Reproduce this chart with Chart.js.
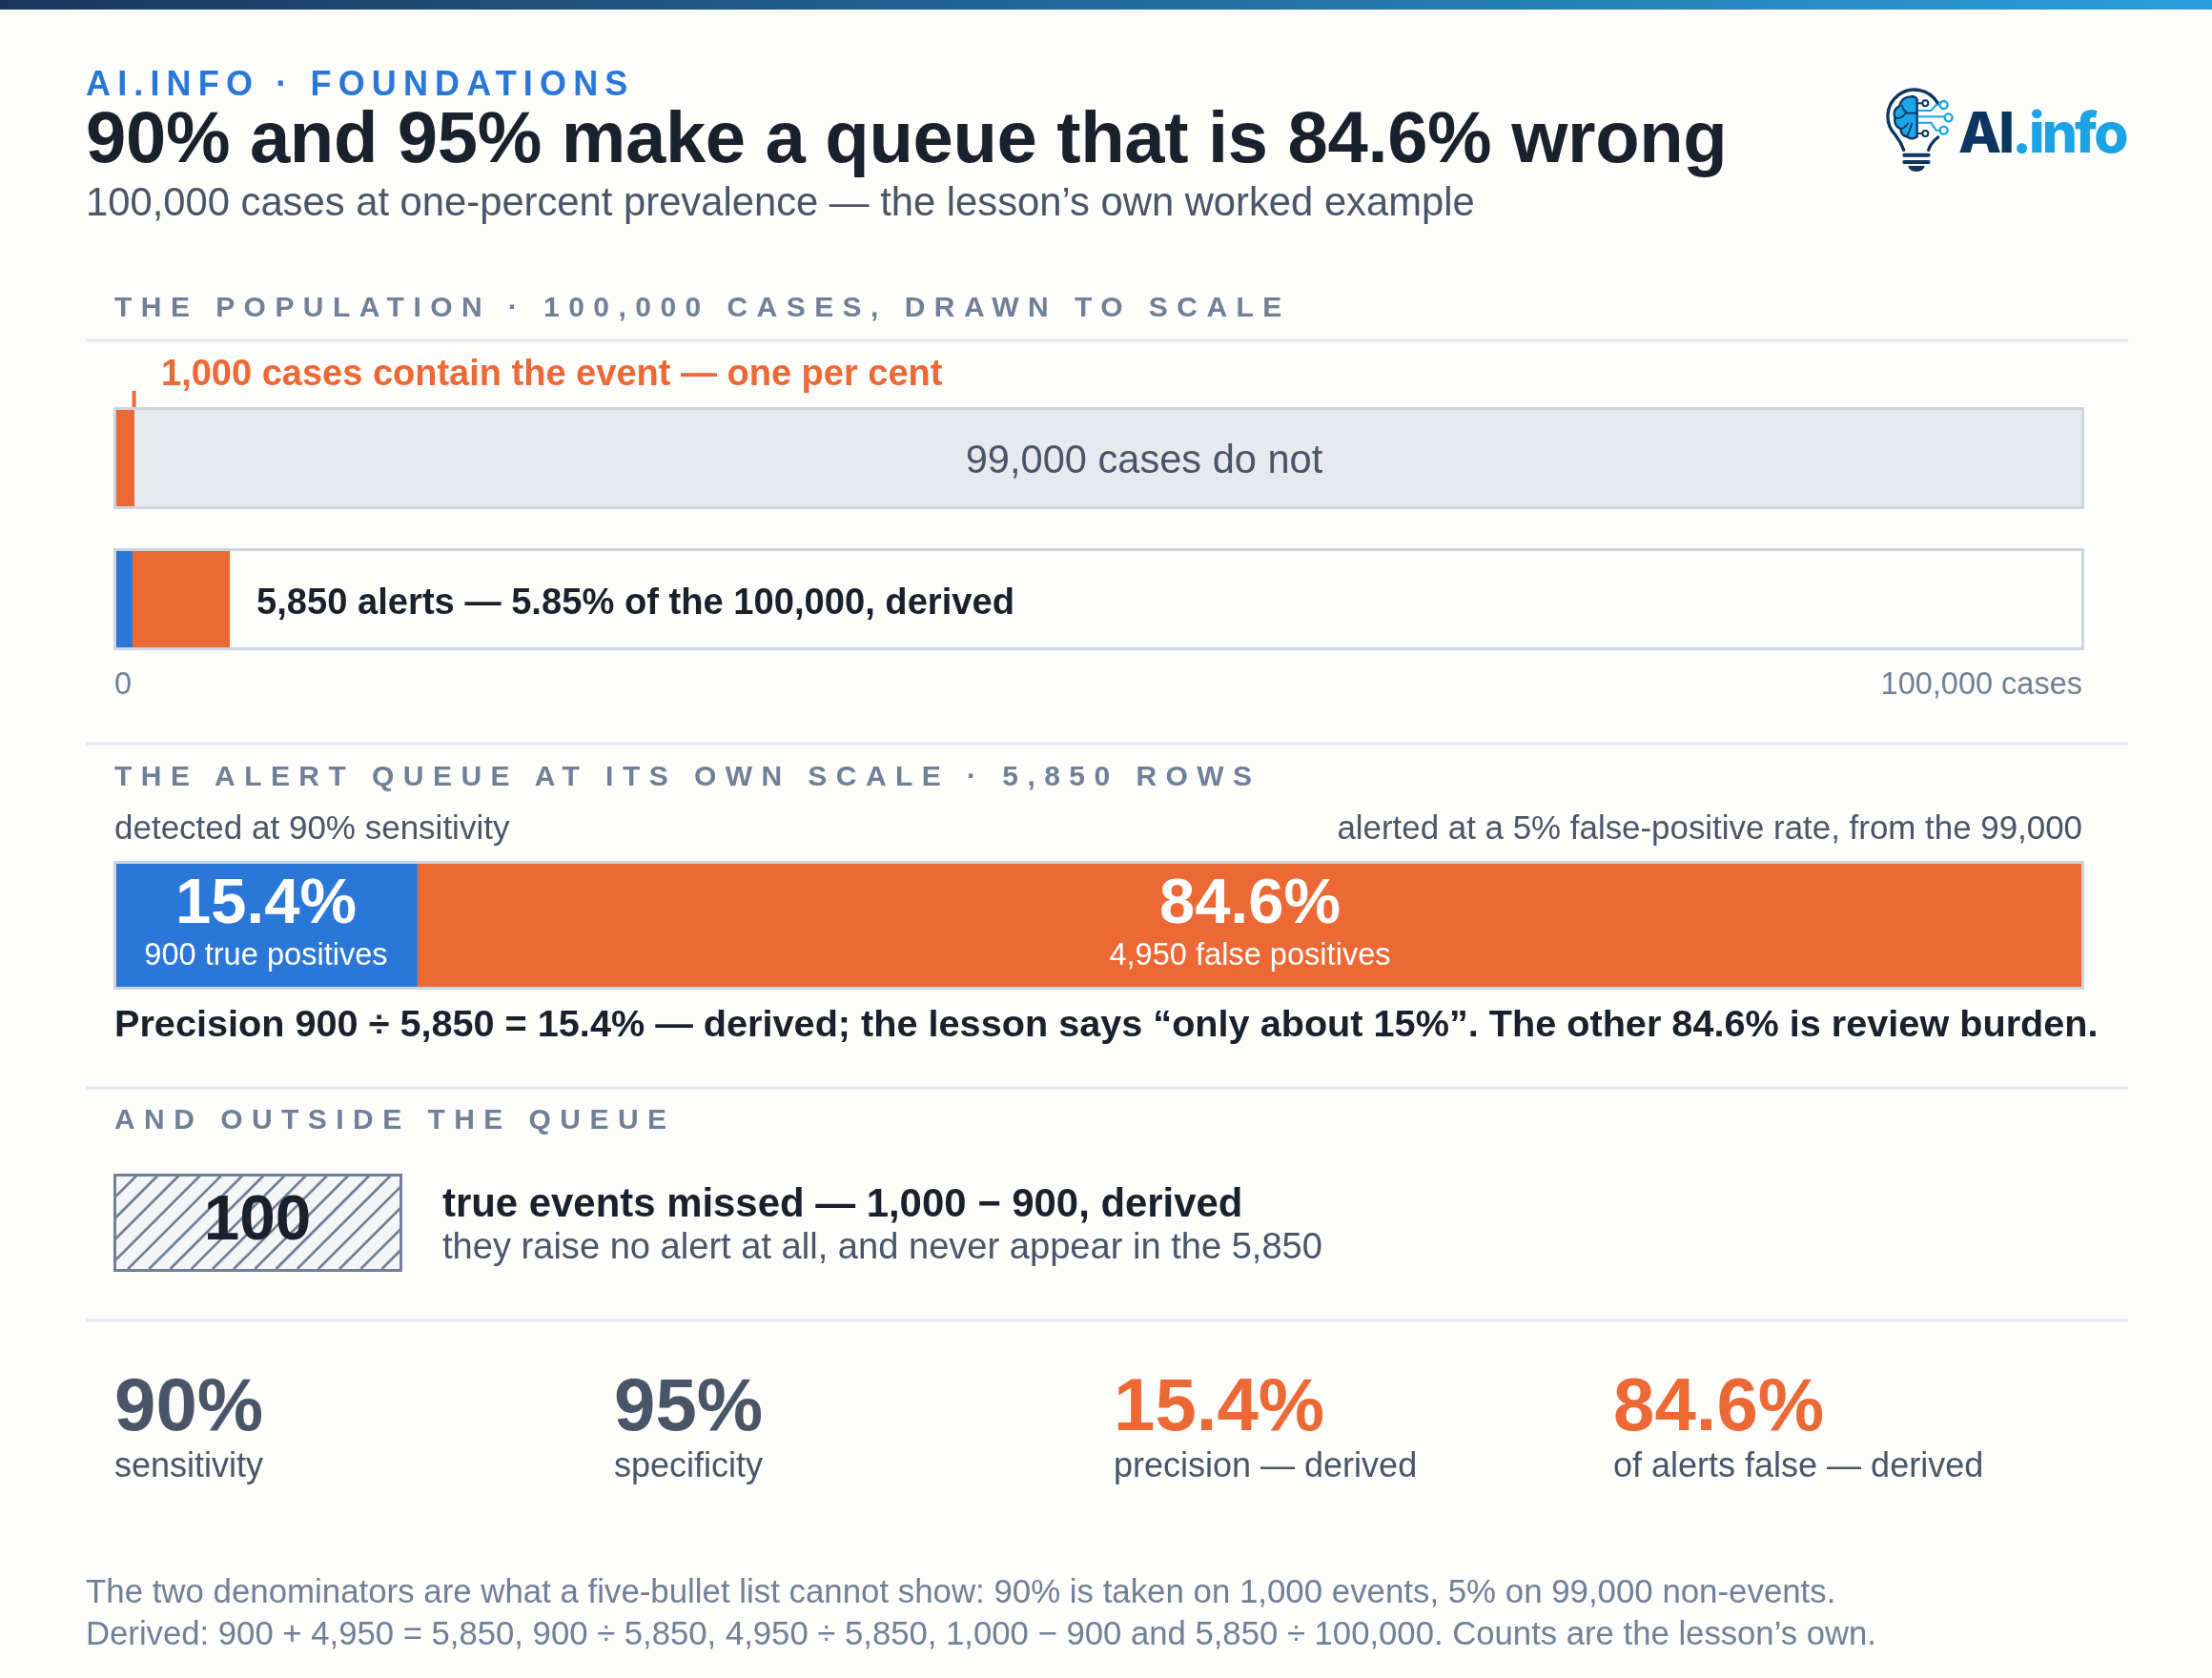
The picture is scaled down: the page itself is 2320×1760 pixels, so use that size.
<!DOCTYPE html>
<html>
<head>
<meta charset="utf-8">
<title>90% and 95% make a queue that is 84.6% wrong</title>
<script src="https://cdn.jsdelivr.net/npm/chart.js@4/dist/chart.umd.min.js"></script>
<style>
  html, body { margin: 0; padding: 0; background: #fdfdfb; }
  #page { position: relative; width: 2320px; height: 1760px; overflow: hidden; background: #fdfdfb; }
  #topbar { position: absolute; left: 0; top: 0; width: 2320px; height: 10px; background: linear-gradient(90deg, #1a365d, #2b9fdc); }
  canvas { position: absolute; }
  #overlay { position: absolute; left: 0; top: 0; pointer-events: none; font-family: "Liberation Sans", Arial, sans-serif; }
  .rule { stroke: #e2e8f0; stroke-width: 3; }
  .head { font-weight: 700; font-size: 30px; letter-spacing: 9.45px; fill: #718096; }
  .b { font-weight: 700; }
</style>
</head>
<body>
<div id="page">
  <div id="topbar"></div>
  <canvas id="populationChart" style="left:100px;top:400px"></canvas>
  <canvas id="alertsChart" style="left:100px;top:550px"></canvas>
  <canvas id="queueChart" style="left:100px;top:880px"></canvas>
  <canvas id="missedChart" style="left:100px;top:1220px"></canvas>

  <svg id="overlay" width="2320" height="1760" xmlns="http://www.w3.org/2000/svg">
    <text x="90" y="100" class="b" font-size="36" letter-spacing="7.15" fill="#2b77d8">AI.INFO · FOUNDATIONS</text>
    <text x="90" y="170" class="b" font-size="76" letter-spacing="-0.33" fill="#1a202c">90% and 95% make a queue that is 84.6% wrong</text>
    <text x="90" y="226" font-size="41.75" fill="#4a5568">100,000 cases at one-percent prevalence — the lesson’s own worked example</text>

    <text x="120" y="332" class="head">THE POPULATION · 100,000 CASES, DRAWN TO SCALE</text>
    <line class="rule" x1="90" x2="2232" y1="357" y2="357"/>
    <text x="169" y="404" class="b" font-size="38" fill="#ec6835">1,000 cases contain the event — one per cent</text>
    <text x="1200" y="496" font-size="41.6" fill="#4a5568" text-anchor="middle">99,000 cases do not</text>
    <text x="269" y="644" class="b" font-size="38.15" fill="#1a202c">5,850 alerts — 5.85% of the 100,000, derived</text>

    <line class="rule" x1="90" x2="2232" y1="780" y2="780"/>
    <text x="120" y="824" class="head">THE ALERT QUEUE AT ITS OWN SCALE · 5,850 ROWS</text>
    <text x="120" y="880" font-size="35" fill="#4a5568">detected at 90% sensitivity</text>
    <text x="2184" y="880" font-size="34.9" fill="#4a5568" text-anchor="end">alerted at a 5% false-positive rate, from the 99,000</text>
    <text x="279" y="968" class="b" font-size="67" fill="#fff" text-anchor="middle">15.4%</text>
    <text x="279" y="1012" font-size="32.6" fill="#fff" text-anchor="middle">900 true positives</text>
    <text x="1311" y="968" class="b" font-size="67" fill="#fff" text-anchor="middle">84.6%</text>
    <text x="1311" y="1012" font-size="32.6" fill="#fff" text-anchor="middle">4,950 false positives</text>
    <text x="120" y="1087" class="b" font-size="39.65" fill="#1a202c">Precision 900 ÷ 5,850 = 15.4% — derived; the lesson says “only about 15%”. The other 84.6% is review burden.</text>

    <line class="rule" x1="90" x2="2232" y1="1141" y2="1141"/>
    <text x="120" y="1184" class="head">AND OUTSIDE THE QUEUE</text>
    <text x="270" y="1300" class="b" font-size="67.5" fill="#1a202c" text-anchor="middle">100</text>
    <text x="464" y="1276" class="b" font-size="41.9" fill="#1a202c">true events missed — 1,000 − 900, derived</text>
    <text x="464" y="1320" font-size="38.1" fill="#4a5568">they raise no alert at all, and never appear in the 5,850</text>

    <line class="rule" x1="90" x2="2232" y1="1385" y2="1385"/>
    <text x="120" y="1500" class="b" font-size="78" fill="#4a5568">90%</text>
    <text x="120" y="1548.5" font-size="36" fill="#4a5568">sensitivity</text>
    <text x="644" y="1500" class="b" font-size="78" fill="#4a5568">95%</text>
    <text x="644" y="1548.5" font-size="36" fill="#4a5568">specificity</text>
    <text x="1168" y="1500" class="b" font-size="78" fill="#ec6835">15.4%</text>
    <text x="1168" y="1548.5" font-size="36" fill="#4a5568">precision — derived</text>
    <text x="1692" y="1500" class="b" font-size="78" fill="#ec6835">84.6%</text>
    <text x="1692" y="1548.5" font-size="36" fill="#4a5568">of alerts false — derived</text>

    <text x="90" y="1680.5" font-size="34.83" fill="#718096">The two denominators are what a five-bullet list cannot show: 90% is taken on 1,000 events, 5% on 99,000 non-events.</text>
    <text x="90" y="1724.5" font-size="34.7" fill="#718096">Derived: 900 + 4,950 = 5,850, 900 ÷ 5,850, 4,950 ÷ 5,850, 1,000 − 900 and 5,850 ÷ 100,000. Counts are the lesson’s own.</text>

    <!-- logo, drawn in units of a 3x crop -->
    <g transform="translate(1900,60) scale(0.3333)">
      <g fill="none" stroke="#0c3560" stroke-width="10" stroke-linecap="round">
        <path d="M396 143 A84 84 0 1 0 264 245 Q282 268 290 292"/>
        <path d="M398 252 Q376 268 368 292"/>
      </g>
      <rect x="286" y="302" width="88" height="12" rx="6" fill="#0c3560"/>
      <rect x="286" y="324" width="88" height="12" rx="6" fill="#0c3560"/>
      <path d="M304 342 H356 A26 18 0 0 1 304 342 Z" fill="#0c3560"/>
      <path d="M332 132 V250 Q316 262 300 250 Q282 246 280 226 Q258 214 262 190 Q254 166 276 154 Q284 124 312 124 Q326 122 332 132 Z" fill="#1ea5e6" stroke="#0c3560" stroke-width="7"/>
      <path d="M332 176 H296 M262 190 Q282 196 296 176 M284 150 Q288 170 300 172 M300 250 Q312 226 316 206 M280 226 Q296 222 304 206" fill="none" stroke="#0c3560" stroke-width="5"/>
      <g fill="none" stroke="#1ba3e3" stroke-width="6">
        <path d="M335 187 H418"/>
        <path d="M335 168 H376 L392 150 H404"/>
        <path d="M335 206 H376 L392 230 H404"/>
        <circle cx="416" cy="150" r="12" stroke-width="7"/>
        <circle cx="431" cy="190" r="12" stroke-width="7"/>
        <circle cx="416" cy="230" r="12" stroke-width="7"/>
      </g>
      <g fill="none" stroke="#0c3560" stroke-width="6">
        <path d="M335 145 H350"/>
        <path d="M335 240 H350"/>
        <circle cx="358" cy="145" r="9"/>
        <circle cx="358" cy="240" r="9"/>
      </g>
      <text x="462" y="300" font-family="Inter, sans-serif" font-weight="800" font-size="176" letter-spacing="-8.6" fill="#0c3560">AI<tspan fill="#1ba3e3">.info</tspan></text>
    </g>
  </svg>
</div>

<script>
// Werte aus dem Bild
const populationLabels = ['All cases'];
const eventCases = [1000];
const nonEventCases = [99000];
const totalCases = 100000;

const alertLabels = ['Alerts'];
const truePositives = [900];
const falsePositives = [4950];
const totalAlerts = 5850;

const missedLabels = ['Missed'];
const missedEvents = [100];

const caseTicks = [0, 100000];
const caseTickLabels = ['0', '100,000 cases'];

const ORANGE = '#ec6835';
const BLUE = '#2b77d8';
const TRACK = '#e6e9ee';
const FRAME = '#cbd5e0';

// Rahmen ueber den Balken, dazu optional ein kleiner Strich
const framePlugin = {
    id: 'frame',
    afterDatasetsDraw(chart, args, opts) {
        const ctx = chart.ctx;
        const a = chart.chartArea;
        ctx.save();
        ctx.strokeStyle = opts.color;
        ctx.lineWidth = 3;
        ctx.strokeRect(a.left + 0.5, a.top + 0.5, a.right - a.left, a.bottom - a.top);
        if (opts.markValue !== undefined) {
            const x = chart.scales.x.getPixelForValue(opts.markValue);
            ctx.fillStyle = ORANGE;
            ctx.fillRect(x - 2, a.top - 18, 4, 17);
        }
        ctx.restore();
    }
};

function hatchPattern() {
    const tile = document.createElement('canvas');
    tile.width = 111;
    tile.height = 111;
    const t = tile.getContext('2d');
    t.fillStyle = '#f3f5f7';
    t.fillRect(0, 0, 111, 111);
    t.strokeStyle = '#718096';
    t.lineWidth = 2.7;
    for (let k = -1; k < 11; k++) {
        const c = k * 22.2 + 11.9;
        t.beginPath();
        t.moveTo(c, 0);
        t.lineTo(c - 111, 111);
        t.stroke();
    }
    return t.createPattern(tile, 'repeat');
}

function createBar(id, size, pad, labels, datasets, max, frame, xExtra) {
    const canvas = document.getElementById(id);
    canvas.width = size[0];
    canvas.height = size[1];
    canvas.style.width = size[0] + 'px';
    canvas.style.height = size[1] + 'px';
    return new Chart(canvas.getContext('2d'), {
        type: 'bar',
        data: { labels: labels, datasets: datasets },
        plugins: [framePlugin],
        options: {
            indexAxis: 'y',
            responsive: false,
            animation: false,
            devicePixelRatio: 1,
            layout: { padding: pad },
            plugins: {
                legend: { display: false },
                tooltip: { enabled: false },
                frame: frame
            },
            datasets: { bar: { barPercentage: 1, categoryPercentage: 1, borderWidth: 0 } },
            scales: {
                x: Object.assign({ stacked: true, min: 0, max: max, display: false }, xExtra || {}),
                y: { stacked: true, display: false }
            }
        }
    });
}

createBar('populationChart', [2100, 140], { left: 20, right: 16, top: 28, bottom: 8 }, populationLabels, [
    { label: 'Contain the event', data: eventCases, backgroundColor: ORANGE },
    { label: 'Do not', data: nonEventCases, backgroundColor: TRACK }
], totalCases, { color: FRAME, markValue: eventCases[0] });

createBar('alertsChart', [2100, 190], { left: 20, right: 16, top: 26, bottom: 0 }, alertLabels, [
    { label: 'True positives', data: truePositives, backgroundColor: BLUE },
    { label: 'False positives', data: falsePositives, backgroundColor: ORANGE }
], totalCases, { color: FRAME }, {
    display: true,
    border: { display: false },
    grid: { display: false, drawTicks: false },
    afterBuildTicks(axis) { axis.ticks = caseTicks.map(v => ({ value: v })); },
    afterFit(axis) {
        axis.height = 60;
        axis.paddingLeft = 0;
        axis.paddingRight = 0;
    },
    ticks: {
        align: 'inner',
        maxRotation: 0,
        autoSkip: false,
        padding: 20,
        color: '#718096',
        font: { family: '"Liberation Sans", Arial, sans-serif', size: 32.5 },
        callback: (v, i) => caseTickLabels[i]
    }
});

createBar('queueChart', [2100, 170], { left: 20, right: 16, top: 24, bottom: 14 }, alertLabels, [
    { label: 'True positives', data: truePositives, backgroundColor: BLUE },
    { label: 'False positives', data: falsePositives, backgroundColor: ORANGE }
], totalAlerts, { color: FRAME });

createBar('missedChart', [340, 130], { left: 20, right: 20, top: 12, bottom: 18 }, missedLabels, [
    { label: 'True events missed', data: missedEvents, backgroundColor: hatchPattern() }
], missedEvents[0], { color: '#718096' });
</script>
</body>
</html>
